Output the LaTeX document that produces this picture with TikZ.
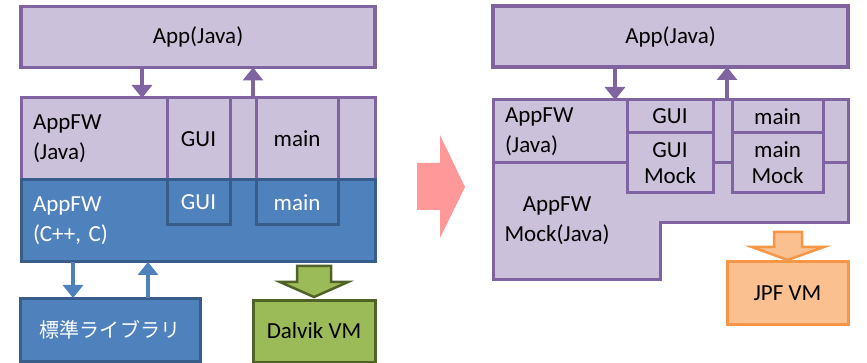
\documentclass[tikz,border=0pt]{standalone}
\usepackage{fontspec}
\setmainfont{Carlito}
\newfontfamily\cjk[Scale=0.87]{Noto Sans CJK JP}
\usetikzlibrary{positioning,calc,arrows.meta}
\definecolor{LayerFill}{HTML}{CCC1DA}
\definecolor{LayerLine}{HTML}{8064A2}
\definecolor{NativeFill}{HTML}{4F81BD}
\definecolor{NativeLine}{HTML}{385D8A}
\definecolor{DalvikFill}{HTML}{9BBB59}
\definecolor{DalvikLine}{HTML}{4F6228}
\definecolor{JpfFill}{HTML}{FAC090}
\definecolor{JpfLine}{HTML}{F79646}
\definecolor{ShiftPink}{HTML}{FF9999}

\begin{document}
\begin{tikzpicture}[
    x=1pt, y=-1pt,
    node distance=0pt,
    font=\fontsize{23}{30}\selectfont,
    javabox/.style={rectangle, draw=LayerLine, line width=3pt, fill=LayerFill,
                    inner sep=0pt, outer sep=0pt, align=center},
    nativebox/.style={rectangle, draw=NativeLine, line width=3pt, fill=NativeFill,
                      text=white, inner sep=0pt, outer sep=0pt, align=center},
    vmbox/.style={rectangle, line width=3pt, inner sep=0pt, outer sep=0pt,
                  minimum height=62pt},
    layer/.style={text width=#1, align=left, inner xsep=12pt},
    mockbox/.style={font=\fontsize{23}{26}\selectfont},
    jarrow/.style={-{Triangle[width=20pt 0, length=13pt 0]}, line width=4.5pt, LayerLine},
    narrow/.style={-{Triangle[width=20pt 0, length=13pt 0]}, line width=4.5pt, NativeFill},
    blockarrow/.style={line width=2.5pt, line join=miter}
]
\useasboundingbox (0,0) rectangle (867,363);

\node[javabox, line width=3.5pt, minimum width=354pt, minimum height=61pt] (appL) at (198,37) {App(Java)};

\node[javabox, layer=330pt, minimum height=82pt] (javaL) at (198,139) {AppFW\\(Java)};
\node[javabox, minimum width=63pt, minimum height=82pt] (guiL) at (198.5,139) {GUI};
\node[javabox, minimum width=82pt, minimum height=82pt] (mainL) at (297,139) {main};

\node[nativebox, layer=330pt, minimum height=82pt, below=of javaL] (natL) {AppFW\\(C++, C)};
\node[nativebox, minimum width=63pt, minimum height=45pt, below=of guiL] (nguiL) {GUI};
\node[nativebox, minimum width=82pt, minimum height=45pt, below=of mainL] (nmainL) {main};

\node[nativebox, minimum width=180pt, minimum height=63pt] (lib) at (110,329.5) {\cjk 標準ライブラリ};
\node[vmbox, draw=DalvikLine, fill=DalvikFill, minimum width=122pt] (dvm) at (314,331) {Dalvik VM};

\draw[jarrow] ([xshift=-56pt]appL.south) -- ([xshift=-56pt]javaL.north);
\draw[jarrow] ([xshift=55pt]javaL.north) -- ([xshift=55pt]appL.south);
\draw[narrow] ([xshift=-125pt]natL.south) -- ([xshift=-37pt]lib.north);
\draw[narrow] ([xshift=38pt]lib.north) -- ([xshift=-50pt]natL.south);
\draw[blockarrow, draw=DalvikLine, fill=DalvikFill] ([yshift=3pt]dvm.north)
    -- ++(-34,-15) -- ++(17,0) -- ++(0,-16) -- ++(34,0) -- ++(0,16) -- ++(17,0) -- cycle;

\fill[ShiftPink] (417,163) -- (440,163) -- (440,135) -- (465,187)
    -- (440,238) -- (440,210) -- (417,210) -- cycle;

\node[javabox, line width=3.5pt, minimum width=355pt, minimum height=61pt] (appR) at (670.5,36.5) {App(Java)};

\node[javabox, layer=331pt, minimum height=63pt] (javaR) at (670.5,131.5) {AppFW\\(Java)};
\draw[LayerLine, fill=LayerFill, line width=3pt] (javaR.south west) |- (660,280)
    |- (848,223) -- (javaR.south east) -- cycle;
\node[align=center] (mockR) at (557,221) {AppFW\\Mock(Java)};

\node[javabox, minimum width=86pt, minimum height=33pt] (guiR) at (670,116.5) {GUI};
\node[javabox, mockbox, minimum width=86pt, minimum height=60pt, below=of guiR] (guiMockR) {GUI\\Mock};
\node[javabox, minimum width=91pt, minimum height=33pt] (mainR) at (777.5,116.5) {main};
\node[javabox, mockbox, minimum width=91pt, minimum height=60pt, below=of mainR] (mainMockR) {main\\Mock};

\node[vmbox, draw=JpfLine, fill=JpfFill, minimum width=121pt] (jpf) at (787.5,293) {JPF VM};

\draw[jarrow] ([xshift=-55.5pt]appR.south) -- ([xshift=-55.5pt]javaR.north);
\draw[jarrow] ([xshift=56.5pt]javaR.north) -- ([xshift=56.5pt]appR.south);
\draw[blockarrow, draw=JpfLine, fill=JpfFill] ([yshift=2pt]jpf.north)
    -- ++(-35.5,-13) -- ++(22,0) -- ++(0,-15) -- ++(28,0) -- ++(0,15) -- ++(22,0) -- cycle;

\end{tikzpicture}
\end{document}
